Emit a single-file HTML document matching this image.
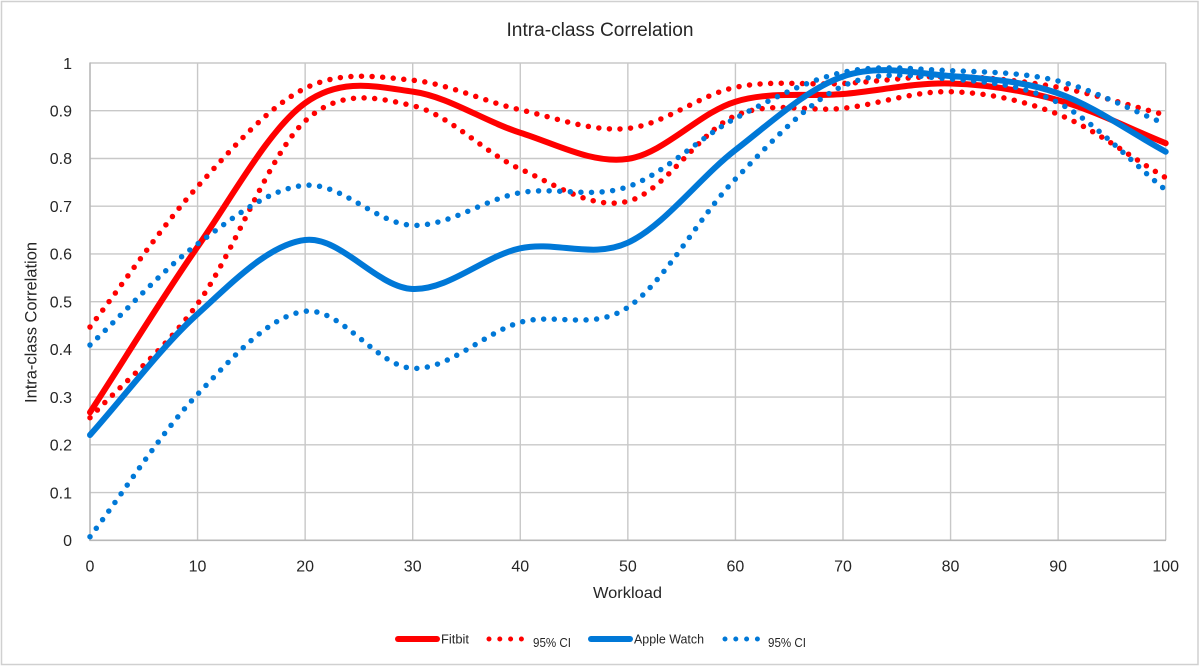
<!DOCTYPE html>
<html>
<head>
<meta charset="utf-8">
<style>
  html, body { margin: 0; padding: 0; background: #ffffff; }
  body { width: 1200px; height: 666px; overflow: hidden; }
  svg { display: block; }
  text { font-family: "Liberation Sans", Arial, sans-serif; fill: #262626; }
</style>
</head>
<body>
<svg width="1200" height="666" viewBox="0 0 1200 666" xmlns="http://www.w3.org/2000/svg">
  <rect x="0" y="0" width="1200" height="666" fill="#ffffff"/>
  <rect x="1.5" y="1.5" width="1196.5" height="663" fill="none" stroke="#d0d0d0" stroke-width="1.5"/>

  <!-- Title -->
  <text x="600" y="36" font-size="19" text-anchor="middle" textLength="187" lengthAdjust="spacingAndGlyphs">Intra-class Correlation</text>

  <!-- Gridlines -->
  <g stroke="#c8c8c8" stroke-width="1.4" fill="none">
    <!-- horizontal -->
    <line x1="90" y1="63" x2="1165.7" y2="63"/>
    <line x1="90" y1="110.7" x2="1165.7" y2="110.7"/>
    <line x1="90" y1="158.5" x2="1165.7" y2="158.5"/>
    <line x1="90" y1="206.2" x2="1165.7" y2="206.2"/>
    <line x1="90" y1="253.9" x2="1165.7" y2="253.9"/>
    <line x1="90" y1="301.7" x2="1165.7" y2="301.7"/>
    <line x1="90" y1="349.4" x2="1165.7" y2="349.4"/>
    <line x1="90" y1="397.1" x2="1165.7" y2="397.1"/>
    <line x1="90" y1="444.8" x2="1165.7" y2="444.8"/>
    <line x1="90" y1="492.6" x2="1165.7" y2="492.6"/>
    <!-- vertical -->
    <line x1="197.57" y1="63" x2="197.57" y2="540.3"/>
    <line x1="305.14" y1="63" x2="305.14" y2="540.3"/>
    <line x1="412.71" y1="63" x2="412.71" y2="540.3"/>
    <line x1="520.28" y1="63" x2="520.28" y2="540.3"/>
    <line x1="627.85" y1="63" x2="627.85" y2="540.3"/>
    <line x1="735.42" y1="63" x2="735.42" y2="540.3"/>
    <line x1="842.99" y1="63" x2="842.99" y2="540.3"/>
    <line x1="950.56" y1="63" x2="950.56" y2="540.3"/>
    <line x1="1058.13" y1="63" x2="1058.13" y2="540.3"/>
    <line x1="1165.7" y1="63" x2="1165.7" y2="540.3"/>
  </g>
  <!-- Axes -->
  <g stroke="#b8b8b8" stroke-width="1.6">
    <line x1="90" y1="62.5" x2="90" y2="541"/>
    <line x1="89.5" y1="540.3" x2="1166" y2="540.3"/>
  </g>

  <!-- Y tick labels -->
  <g font-size="16" text-anchor="end">
    <text x="72" y="69">1</text>
    <text x="72" y="116.4">0.9</text>
    <text x="72" y="164.2">0.8</text>
    <text x="72" y="211.9">0.7</text>
    <text x="72" y="259.6">0.6</text>
    <text x="72" y="307.4">0.5</text>
    <text x="72" y="355.1">0.4</text>
    <text x="72" y="402.8">0.3</text>
    <text x="72" y="450.5">0.2</text>
    <text x="72" y="498.3">0.1</text>
    <text x="72" y="546">0</text>
  </g>
  <!-- X tick labels -->
  <g font-size="16" text-anchor="middle">
    <text x="90" y="571.4">0</text>
    <text x="197.57" y="571.4">10</text>
    <text x="305.14" y="571.4">20</text>
    <text x="412.71" y="571.4">30</text>
    <text x="520.28" y="571.4">40</text>
    <text x="627.85" y="571.4">50</text>
    <text x="735.42" y="571.4">60</text>
    <text x="842.99" y="571.4">70</text>
    <text x="950.56" y="571.4">80</text>
    <text x="1058.13" y="571.4">90</text>
    <text x="1165.7" y="571.4">100</text>
  </g>

  <!-- Axis titles -->
  <text x="627.5" y="598" font-size="16" text-anchor="middle" textLength="69" lengthAdjust="spacingAndGlyphs">Workload</text>
  <text transform="translate(36.5,322.5) rotate(-90)" x="0" y="0" font-size="16.5" text-anchor="middle" textLength="161" lengthAdjust="spacingAndGlyphs">Intra-class Correlation</text>

  <!-- Series -->
  <g fill="none" stroke-linecap="round" stroke-linejoin="round">
    <!-- Fitbit -->
    <path stroke="#ff0000" stroke-width="6" d="M90,412.4 C125.86,357.2 161.71,298.35 197.57,246.8 C233.43,195.25 269.28,128.97 305.14,103.1 C341,77.23 376.85,86.67 412.71,91.6 C448.57,96.53 484.42,121.48 520.28,132.7 C556.14,143.92 591.99,164.07 627.85,158.9 C663.71,153.73 699.56,112.52 735.42,101.7 C771.28,90.88 807.13,97.03 842.99,94.0 C878.85,90.97 914.7,82.47 950.56,83.5 C986.42,84.53 1022.27,90.25 1058.13,100.2 C1093.99,110.15 1129.84,128.87 1165.7,143.2"/>
    <!-- Fitbit upper CI -->
    <path stroke="#ff0000" stroke-width="5.5" stroke-dasharray="0 10.6" d="M90,327 C125.86,280.2 161.71,226.38 197.57,186.6 C233.43,146.82 269.28,106.03 305.14,88.3 C341,70.57 376.85,76.62 412.71,80.2 C448.57,83.78 484.42,101.77 520.28,109.8 C556.14,117.83 591.99,132.15 627.85,128.4 C663.71,124.65 699.56,94.78 735.42,87.3 C771.28,79.82 807.13,85.32 842.99,83.5 C878.85,81.68 914.7,75.77 950.56,76.4 C986.42,77.03 1022.27,80.87 1058.13,87.3 C1093.99,93.73 1129.84,105.77 1165.7,115"/>
    <!-- Fitbit lower CI -->
    <path stroke="#ff0000" stroke-width="5.5" stroke-dasharray="0 10.6" d="M90,417.7 C125.86,379.73 161.71,353.25 197.57,303.8 C233.43,254.35 269.28,154.02 305.14,121 C341,87.98 376.85,97.7 412.71,105.7 C448.57,113.7 484.42,153.07 520.28,169 C556.14,184.93 591.99,210.18 627.85,201.3 C663.71,192.42 699.56,131.2 735.42,115.7 C771.28,100.2 807.13,112.3 842.99,108.3 C878.85,104.3 914.7,90.7 950.56,91.7 C986.42,92.7 1022.27,99.97 1058.13,114.3 C1093.99,128.63 1129.84,156.57 1165.7,177.7"/>
    <!-- Apple Watch -->
    <path stroke="#0078d7" stroke-width="6" d="M90,435 C125.86,394.67 161.71,346.5 197.57,314 C233.43,281.5 269.28,244.17 305.14,240 C341,235.83 376.85,287.62 412.71,289 C448.57,290.38 484.42,256.02 520.28,248.3 C556.14,240.58 591.99,259.08 627.85,242.7 C663.71,226.32 699.56,177.7 735.42,150 C771.28,122.3 807.13,88.83 842.99,76.5 C878.85,64.17 914.7,73.2 950.56,76 C986.42,78.8 1022.27,80.68 1058.13,93.3 C1093.99,105.92 1129.84,132.23 1165.7,151.7"/>
    <!-- Apple upper CI -->
    <path stroke="#0078d7" stroke-width="5.5" stroke-dasharray="0 10.6" d="M90,345 C125.86,311.33 161.71,270.62 197.57,244 C233.43,217.38 269.28,188.42 305.14,185.3 C341,182.18 376.85,224.07 412.71,225.3 C448.57,226.53 484.42,199.13 520.28,192.7 C556.14,186.27 591.99,199.1 627.85,186.7 C663.71,174.3 699.56,137.37 735.42,118.3 C771.28,99.23 807.13,80.23 842.99,72.3 C878.85,64.37 914.7,69.25 950.56,70.7 C986.42,72.15 1022.27,72.12 1058.13,81 C1093.99,89.88 1129.84,109.67 1165.7,124"/>
    <!-- Apple lower CI -->
    <path stroke="#0078d7" stroke-width="5.5" stroke-dasharray="0 10.6" d="M90,536.7 C125.86,489.23 161.71,431.87 197.57,394.3 C233.43,356.73 269.28,315.63 305.14,311.3 C341,306.97 376.85,366.47 412.71,368.3 C448.57,370.13 484.42,332.47 520.28,322.3 C556.14,312.13 591.99,331.18 627.85,307.3 C663.71,283.42 699.56,215.88 735.42,179 C771.28,142.12 807.13,102.67 842.99,86 C878.85,69.33 914.7,76.22 950.56,79 C986.42,81.78 1022.27,84.2 1058.13,102.7 C1093.99,121.2 1129.84,160.9 1165.7,190"/>
  </g>

  <!-- Legend -->
  <g stroke-linecap="round">
    <line x1="398" y1="639" x2="437" y2="639" stroke="#ff0000" stroke-width="6"/>
    <line x1="489" y1="639" x2="522" y2="639" stroke="#ff0000" stroke-width="5" stroke-dasharray="0 10.8"/>
    <line x1="591" y1="639" x2="630" y2="639" stroke="#0078d7" stroke-width="6"/>
    <line x1="725" y1="639" x2="758" y2="639" stroke="#0078d7" stroke-width="5" stroke-dasharray="0 10.8"/>
  </g>
  <g font-size="13">
    <text x="441" y="643.5" textLength="28" lengthAdjust="spacingAndGlyphs">Fitbit</text>
    <text x="533" y="647" textLength="38" lengthAdjust="spacingAndGlyphs">95% CI</text>
    <text x="634" y="643.5" textLength="70" lengthAdjust="spacingAndGlyphs">Apple Watch</text>
    <text x="768" y="647" textLength="38" lengthAdjust="spacingAndGlyphs">95% CI</text>
  </g>
</svg>
</body>
</html>
